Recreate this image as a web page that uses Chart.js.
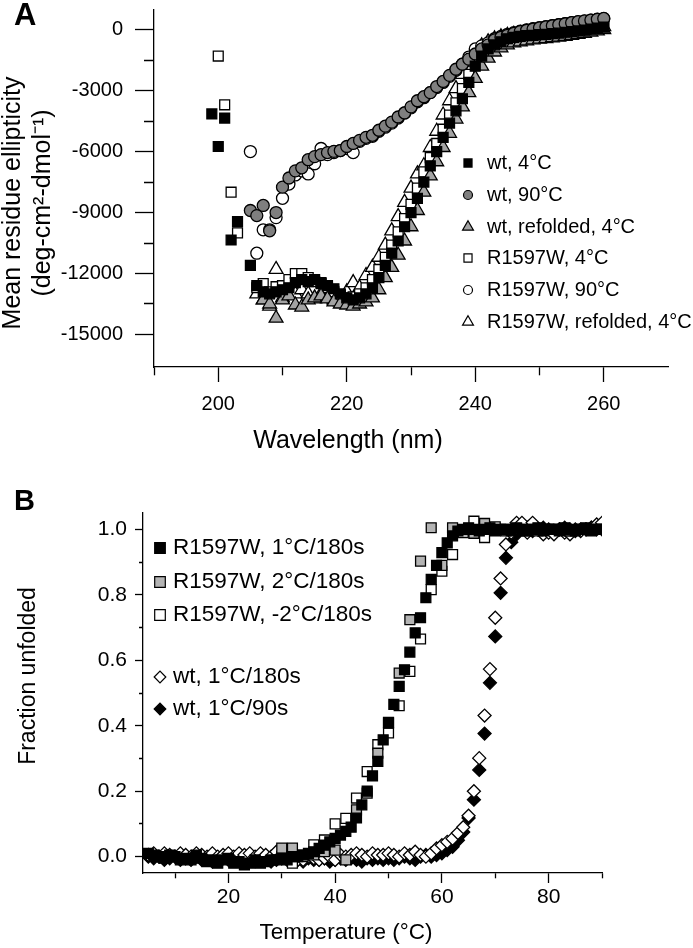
<!DOCTYPE html>
<html lang="en">
<head>
<meta charset="UTF-8">
<title>CD spectra and thermal unfolding</title>
<script src="https://cdn.jsdelivr.net/npm/chart.js"></script>
<style>
    body { margin: 0; background: #fff; }
    #wrap { position: relative; width: 693px; height: 948px; }
    canvas { position: absolute; left: 0; }
    #chartA { top: 0; }
    #chartB { top: 470px; }
</style>
</head>
<body>
<div id="wrap">
    <canvas id="chartA" width="693" height="470"></canvas>
    <canvas id="chartB" width="693" height="478"></canvas>
</div>
<script>
    // ---------- panel A: CD spectra ----------
    const wavelength = [199, 200, 201, 202, 203, 204, 205, 206, 207, 208, 209, 210, 211, 212, 213, 214, 215, 216, 217, 218,
        219, 220, 221, 222, 223, 224, 225, 226, 227, 228, 229, 230, 231, 232, 233, 234, 235, 236, 237, 238, 239, 240,
        241, 242, 243, 244, 245, 246, 247, 248, 249, 250, 251, 252, 253, 254, 255, 256, 257, 258, 259, 260];

    const wt4C = [-4150, -5750, -4350, -10350, -9450, null, -11600, -12600, -12900, -13000, -12900, -12800, -12700, -12450,
        -12300, -12400, -12300, -12450, -12600, -12750, -13000, -13200, -13300, -13200, -13000, -12700, -12200, -11600,
        -11000, -10400, -9700, -9000, -8300, -7500, -6700, -6000, -5300, -4600, -4000, -3400, -2600, -1800, -1300, -950,
        -750, -600, -450, -380, -330, -300, -280, -250, -230, -200, -170, -130, -100, -60, -20, 30, 80, 120];

    const wt90C = [null, null, null, null, null, null, -8900, -9150, -8650, -9900, -9000, -7750, -7300, -6950, -6800, -6400,
        -6250, -6150, -6050, -5990, -5950, -5750, -5600, -5450, -5300, -5200, -4950, -4750, -4550, -4300, -4100, -3800,
        -3500, -3300, -3100, -2800, -2550, -2250, -1950, -1700, -1450, -1200, -950, -750, -500, -380, -280, -180, -100,
        -30, 30, 90, 140, 190, 240, 290, 340, 390, 430, 470, 510, 550];

    const wtRefolded = [null, null, null, null, null, null, null, null, -13300, -13500, -14200, -13300, -13100, -13550,
        -13650, -13300, -13200, -13100, -13250, -13400, -13500, -13550, -13600, -13500, -13400, -13200, -12800, -12200,
        -11700, -11100, -10400, -9700, -8900, -8000, -7200, -6500, -5800, -5100, -4400, -3800, -3100, -2400, -1800, -1400,
        -1100, -900, -750, -650, -600, -550, -500, -470, -440, -400, -370, -330, -280, -230, -180, -120, -60, 0];

    const mut4C = [null, -1300, -3700, -8000, -10000, null, null, -12700, -12500, -12900, -12650, -12600, -12300, -12000,
        -12000, -12200, -12400, -12500, -12700, -12900, -13100, -13200, -13150, -13000, -12700, -12300, -11800, -11200,
        -10600, -9950, -9300, -8600, -7800, -7000, -6300, -5600, -4900, -4200, -3600, -2900, -2200, -1600, -1150, -850,
        -650, -520, -420, -350, -300, -270, -240, -210, -190, -160, -130, -100, -70, -40, 0, 40, 80, 110];

    const mut90C = [null, null, null, null, null, null, -6000, -11000, -9850, -9850, -9250, -8300, -7600, -7150, -6950,
        -7100, -6600, -5850, -6150, -6050, -5950, -5850, -6050, -5500, -5350, -5250, -5000, -4800, -4600, -4350, -4100,
        -3850, -3550, -3350, -3100, -2850, -2600, -2300, -2000, -1700, -1350, -950, -800, -650, -450, -330, -230, -150,
        -80, -10, 50, 100, 150, 200, 250, 300, 340, 380, 420, 460, 500, 540];

    const mutRefolded = [null, null, null, null, null, null, null, -13000, -13300, -13600, -11800, -13200, -12900, -13000,
        -12800, -13000, -13250, -13000, -13200, -13300, -13400, -12900, -12450, -12700, -12100, -11700, -11200, -10600,
        -9900, -9200, -8500, -7800, -7100, -6700, -5800, -5000, -4200, -3500, -2900, -2200, -1600, -1100, -800, -600,
        -450, -350, -280, -230, -190, -160, -130, -100, -80, -60, -40, -20, 0, 30, 60, 90, 120, 150];

    const seriesLabelsA = ['wt, 4°C', 'wt, 90°C', 'wt, refolded, 4°C', 'R1597W, 4°C', 'R1597W, 90°C', 'R1597W, refolded, 4°C'];
    const xTicksA = [190, 200, 210, 220, 230, 240, 250, 260];
    const xLabelsA = [200, 220, 240, 260];
    const yTicksA = [-15000, -13500, -12000, -10500, -9000, -7500, -6000, -4500, -3000, -1500, 0];
    const yLabelsA = [-15000, -12000, -9000, -6000, -3000, 0];

    // ---------- panel B: thermal unfolding ----------
    const temperature = [5, 6, 7, 8, 9, 10, 11, 12, 13, 14, 15, 16, 17, 18, 19, 20, 21, 22, 23, 24, 25, 26, 27, 28, 29,
        30, 31, 32, 33, 34, 35, 36, 37, 38, 39, 40, 41, 42, 43, 44, 45, 46, 47, 48, 49, 50, 51, 52, 53, 54, 55, 56, 57,
        58, 59, 60, 61, 62, 63, 64, 65, 66, 67, 68, 69, 70, 71, 72, 73, 74, 75, 76, 77, 78, 79, 80, 81, 82, 83, 84, 85,
        86, 87, 88, 89, 90];
    const temperatureEven = [30, 32, 34, 36, 38, 40, 42, 44, 46, 48, 50, 52, 54, 56, 58, 60, 62, 64, 66, 68, 70, 72, 74,
        76, 78, 80, 82, 84, 86, 88, 90];

    const mut1C180 = [0.01, 0.005, 0.0, -0.005, 0.005, 0.0, -0.01, -0.005, -0.01, 0.005, -0.005, -0.015, -0.01, -0.02,
        -0.01, -0.005, -0.02, -0.015, -0.025, -0.02, -0.01, -0.02, -0.015, -0.01, -0.01, -0.005, -0.01, 0.0, 0.0, 0.005,
        0.01, 0.015, 0.025, 0.035, 0.045, 0.056, 0.066, 0.077, 0.09, 0.118, 0.158, 0.2, 0.247, 0.291, 0.357, 0.41, 0.465,
        0.52, 0.571, 0.625, 0.684, 0.73, 0.791, 0.847, 0.89, 0.929, 0.959, 0.98, 0.995, 1.0, 1.005, 1.0, 0.995, 1.0,
        1.005, 0.995, 1.0, 1.0, 0.995, 1.005, 1.0, 0.995, 1.0, 1.005, 0.995, 1.0, 1.0, 0.995, 1.005, 1.0, 0.995, 1.0,
        1.005, 0.995, 1.0, 1.0];

    const mut2C180 = [0.026, 0.026, 0.0, 0.005, 0.015, 0.02, -0.01, 0.143, 0.194, 0.316, 0.408, 0.561, 0.724, 0.903,
        1.005, 0.89, 1.005, 0.99, 0.988, 1.018, 1.0, 0.995, 1.0, 1.0, 0.995, 1.0, 1.0, 0.995, 1.0, 1.0, 1.0];

    const mutMinus2C180 = [0.0, -0.02, 0.005, 0.036, 0.051, 0.1, 0.117, 0.179, 0.26, 0.342, 0.378, 0.461, 0.566, 0.665,
        0.816, 0.872, 0.923, 0.995, 1.025, 0.975, 1.008, 1.0, 1.0, 0.995, 1.0, 1.0, 1.0, 0.995, 1.0, 1.0, 1.0];

    const wt1C180 = [0.005, 0.01, 0.0, 0.01, 0.005, 0.0, 0.01, 0.005, 0.0, 0.01, 0.005, 0.0, 0.01, 0.0, 0.005, 0.01, 0.0,
        0.01, 0.005, 0.01, 0.0, 0.01, 0.005, 0.0, 0.015, 0.005, -0.005, 0.0, -0.01, -0.01, 0.0, -0.005, -0.01, -0.005,
        0.0, -0.01, 0.005, 0.0, 0.005, 0.01, 0.005, 0.0, 0.01, 0.005, 0.005, 0.01, 0.005, 0.0, 0.01, 0.005, 0.015, 0.005,
        0.0, 0.01, 0.025, 0.035, 0.045, 0.055, 0.072, 0.09, 0.125, 0.2, 0.301, 0.431, 0.573, 0.73, 0.85, 0.954, 0.99,
        1.02, 1.02, 0.99, 1.02, 1.0, 0.985, 0.99, 0.985, 1.0, 0.99, 0.985, 1.0, 0.995, 1.0, 1.005, 1.015, 1.02];

    const wt1C90 = [0.0, -0.005, 0.0, -0.01, -0.005, 0.0, -0.01, -0.005, -0.01, 0.0, -0.01, -0.005, -0.015, -0.01, -0.005,
        -0.01, -0.005, -0.01, -0.015, -0.005, -0.01, -0.005, -0.01, -0.015, -0.01, -0.005, -0.01, -0.005, -0.01, -0.015,
        -0.005, -0.01, -0.01, -0.005, -0.015, -0.01, -0.005, -0.01, -0.005, -0.01, -0.015, -0.005, -0.01, -0.005, -0.01,
        -0.005, -0.01, -0.005, 0.0, -0.005, -0.01, 0.0, 0.005, 0.0, 0.005, 0.01, 0.02, 0.03, 0.05, 0.075, 0.118, 0.174,
        0.265, 0.376, 0.531, 0.673, 0.806, 0.913, 0.961, 0.985, 1.0, 1.005, 0.995, 1.0, 1.005, 1.0, 0.995, 1.0, 1.005,
        1.0, 0.995, 1.0, 1.0, 1.005, 1.0, 1.0];

    const seriesLabelsB = ['R1597W, 1°C/180s', 'R1597W, 2°C/180s', 'R1597W, -2°C/180s', 'wt, 1°C/180s', 'wt, 1°C/90s'];
    const xTicksB = [10, 20, 30, 40, 50, 60, 70, 80, 90];
    const xLabelsB = [20, 40, 60, 80];
    const yTicksB = [0.0, 0.1, 0.2, 0.3, 0.4, 0.5, 0.6, 0.7, 0.8, 0.9, 1.0];
    const yLabelsB = [0.0, 0.2, 0.4, 0.6, 0.8, 1.0];

    const FONT = '"Liberation Sans", Arial, sans-serif';
    Chart.defaults.font.family = FONT;
    Chart.defaults.color = '#000';

    function pts(xs, ys) {
        const out = [];
        xs.forEach((x, i) => { if (ys[i] !== null) out.push({ x: x, y: ys[i] }); });
        return out;
    }

    function marker(label, data, style, fill, radius) {
        return {
            label: label, data: data, pointStyle: style, backgroundColor: fill, borderColor: '#000',
            borderWidth: 1.3, pointRadius: radius, showLine: false
        };
    }

    // axis titles, panel letters and the in-plot legend
    const decor = {
        id: 'decor',
        afterDraw(chart, args, opts) {
            const ctx = chart.ctx;
            (opts.texts || []).forEach(t => {
                ctx.save();
                ctx.font = (t.bold ? 'bold ' : '') + t.size + 'px ' + FONT;
                ctx.fillStyle = '#000';
                ctx.textAlign = t.align || 'center';
                ctx.textBaseline = 'middle';
                ctx.translate(t.x, t.y);
                if (t.rotate) ctx.rotate(-Math.PI / 2);
                ctx.fillText(t.text, 0, 0);
                ctx.restore();
            });
            const lg = opts.legend;
            if (!lg) return;
            lg.rows.forEach((y, i) => {
                const ds = chart.data.datasets[i];
                ctx.save();
                ctx.fillStyle = ds.backgroundColor;
                ctx.strokeStyle = ds.borderColor;
                ctx.lineWidth = 1.2;
                Chart.helpers.drawPoint(ctx, { pointStyle: ds.pointStyle, radius: lg.radius[ds.pointStyle], rotation: 0, borderWidth: 1.2 }, lg.markerX, y);
                ctx.fillStyle = '#000';
                ctx.font = lg.size + 'px ' + FONT;
                ctx.textAlign = 'left';
                ctx.textBaseline = 'middle';
                ctx.fillText(ds.label, lg.textX, y);
                ctx.restore();
            });
        }
    };

    function axis(min, max, tickList, labelList, fmt, o) {
        const major = v => labelList.includes(v);
        return {
            type: 'linear', min: min, max: max,
            afterBuildTicks: s => { s.ticks = tickList.map(v => ({ value: v })); },
            afterFit: s => {
                if (o.width) s.width = o.width;
                if (o.height) s.height = o.height;
                s.paddingLeft = s.paddingRight = s.paddingTop = s.paddingBottom = 0;
            },
            border: { color: '#000', width: 1.3 },
            grid: {
                drawOnChartArea: false, tickLength: o.tick, tickColor: '#000', tickWidth: 1.3,
                tickBorderDash: c => (c.tick && !major(c.tick.value)) ? o.minorDash : []
            },
            ticks: {
                padding: o.pad, color: '#000', font: { size: o.size }, autoSkip: false, maxRotation: 0,
                callback: v => major(v) ? fmt(v) : ''
            }
        };
    }

    new Chart(document.getElementById('chartA'), {
        type: 'scatter',
        data: {
            datasets: [
                marker(seriesLabelsA[0], pts(wavelength, wt4C), 'rect', '#000', 7),
                marker(seriesLabelsA[1], pts(wavelength, wt90C), 'circle', '#7f7f7f', 6),
                marker(seriesLabelsA[2], pts(wavelength, wtRefolded), 'triangle', '#a3a3a3', 8),
                marker(seriesLabelsA[3], pts(wavelength, mut4C), 'rect', '#fff', 7),
                marker(seriesLabelsA[4], pts(wavelength, mut90C), 'circle', '#fff', 6),
                marker(seriesLabelsA[5], pts(wavelength, mutRefolded), 'triangle', '#fff', 8)
            ]
        },
        plugins: [decor],
        options: {
            responsive: false, animation: false, devicePixelRatio: 1,
            layout: { padding: { top: 4, right: 25, left: 0, bottom: 0 } },
            plugins: {
                legend: { display: false }, tooltip: { enabled: false },
                decor: {
                    texts: [
                        { text: 'A', x: 14, y: 16, size: 31, bold: true, align: 'left' },
                        { text: 'Mean residue ellipticity', x: 13, y: 203, size: 25, rotate: true },
                        { text: '(deg-cm²-dmol⁻¹)', x: 43, y: 203, size: 25, rotate: true },
                        { text: 'Wavelength (nm)', x: 348, y: 441, size: 25 }
                    ],
                    legend: { rows: [163, 195, 227, 258, 290, 322], markerX: 468, textX: 487, size: 20,
                        radius: { rect: 5.7, circle: 4.5, triangle: 6.3 } }
                }
            },
            scales: {
                x: axis(190, 270, xTicksA, xLabelsA, v => String(v),
                    { height: 103, tick: 15, minorDash: [8, 100], pad: 10, size: 20 }),
                y: axis(-16600, 1000, yTicksA, yLabelsA, v => String(v),
                    { width: 154, tick: 19, minorDash: [0, 9, 10, 100], pad: 12, size: 20 })
            }
        }
    });

    new Chart(document.getElementById('chartB'), {
        type: 'scatter',
        data: {
            datasets: [
                marker(seriesLabelsB[0], pts(temperature, mut1C180), 'rect', '#000', 7),
                marker(seriesLabelsB[1], pts(temperatureEven, mut2C180), 'rect', '#b4b4b4', 7),
                marker(seriesLabelsB[2], pts(temperatureEven, mutMinus2C180), 'rect', '#fff', 7),
                marker(seriesLabelsB[3], pts(temperature, wt1C180), 'rectRot', '#fff', 6.5),
                marker(seriesLabelsB[4], pts(temperature, wt1C90), 'rectRot', '#000', 6.5)
            ]
        },
        plugins: [decor],
        options: {
            responsive: false, animation: false, devicePixelRatio: 1,
            layout: { padding: { top: 43, right: 91, left: 0, bottom: 0 } },
            plugins: {
                legend: { display: false }, tooltip: { enabled: false },
                decor: {
                    texts: [
                        { text: 'B', x: 14, y: 32, size: 29, bold: true, align: 'left' },
                        { text: 'Fraction unfolded', x: 29, y: 206, size: 23, rotate: true },
                        { text: 'Temperature (°C)', x: 346, y: 463, size: 22.5 }
                    ],
                    legend: { rows: [78, 112, 145, 207, 239], markerX: 160, textX: 173, size: 22.5,
                        radius: { rect: 7.5, rectRot: 5.8 } }
                }
            },
            scales: {
                x: axis(4, 90, xTicksB, xLabelsB, v => String(v),
                    { height: 75, tick: 10, minorDash: [5, 100], pad: 2, size: 21 }),
                y: axis(-0.05, 1.05, yTicksB, yLabelsB, v => v.toFixed(1),
                    { width: 143, tick: 8, minorDash: [0, 4, 4, 100], pad: 8, size: 21 })
            }
        }
    });
</script>
</body>
</html>
